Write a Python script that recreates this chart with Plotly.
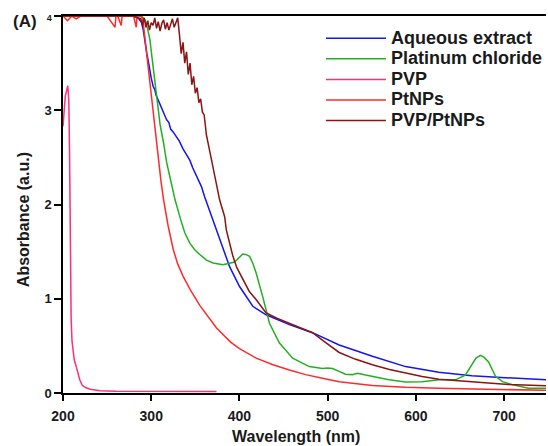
import plotly.graph_objects as go

# ---- data ----
series_names = ["Aqueous extract", "Platinum chloride", "PVP", "PtNPs", "PVP/PtNPs"]
series_colors = ["#1414F0", "#22B022", "#FF2D7A", "#FF2A2A", "#8B1414"]

aq_wl = [200, 210, 220, 230, 240, 250, 260, 270, 280, 286, 289, 291, 292.9, 295, 296.5, 298.5, 300, 302.3, 304, 305.5,
         307.9, 309.8, 312, 314, 317.4, 320, 322, 324.8, 328.7, 332, 336, 340, 343.7, 347, 351.2, 356.9, 360.6, 364,
         368.2, 373.8, 381.3, 388.8, 400.1, 415.1, 430.2, 456.5, 482.8, 513, 550.6, 588.3, 625.9, 663.4, 701, 748]
aq_abs = [4, 4, 4, 4, 4, 4, 4, 4, 4, 3.97, 3.93, 3.85, 3.71, 3.6, 3.53, 3.39, 3.34, 3.25, 3.22, 3.16,
          3.11, 3.07, 3.01, 2.98, 2.9, 2.87, 2.8, 2.77, 2.72, 2.67, 2.59, 2.52, 2.47, 2.39, 2.30, 2.19, 2.08, 1.99,
          1.87, 1.73, 1.52, 1.34, 1.13, 0.92, 0.83, 0.725, 0.64, 0.51, 0.39, 0.28, 0.22, 0.184, 0.162, 0.141]

pc_wl = [200, 250, 285, 290, 292.9, 295, 298.5, 301, 304.2, 306.1, 310, 314, 317.4, 321, 327, 333, 338, 343.7, 349.3,
         355, 362.5, 370, 381.3, 394.5, 400, 403.8, 407, 411.4, 415, 419, 426.4, 434, 445.3, 460.3, 479.1, 494.1, 500,
         505.4, 513, 520, 528, 533.7, 543, 569.4, 588.3, 607, 626, 644.7, 656, 663.4, 668, 673, 677, 682.3, 690, 698,
         708.6, 727.4, 748]
pc_abs = [4, 4, 4, 3.99, 3.96, 3.9, 3.75, 3.55, 3.29, 3.11, 2.85, 2.65, 2.45, 2.3, 2.05, 1.85, 1.70, 1.59, 1.52,
          1.47, 1.41, 1.38, 1.36, 1.39, 1.44, 1.475, 1.47, 1.45, 1.38, 1.27, 1.02, 0.74, 0.53, 0.37, 0.28, 0.26, 0.265,
          0.26, 0.23, 0.2, 0.195, 0.21, 0.19, 0.14, 0.117, 0.12, 0.14, 0.14, 0.19, 0.31, 0.37, 0.40, 0.38, 0.33, 0.18, 0.12,
          0.09, 0.05, 0.05]

pvp_wl = [200, 202.6, 205.4, 206.6, 207.4, 208.3, 209.2, 210.2, 212.8, 215, 216.8, 219, 222, 226, 231, 242, 260, 300, 340, 374]
pvp_abs = [2.83, 3.15, 3.26, 3.1, 2.58, 1.6, 0.8, 0.55, 0.35, 0.28, 0.22, 0.14, 0.08, 0.055, 0.04, 0.025, 0.018, 0.015, 0.015, 0.015]

pt_wl = [200, 205, 210, 215, 220, 230, 250, 259, 260, 262, 266, 267, 270, 280, 283, 284, 286, 289, 291, 293, 296,
         299, 302, 305, 308, 311, 314, 319, 325, 330, 336, 344, 355, 365, 374, 390, 400, 419, 438, 456.5, 475, 494, 513,
         550.6, 588, 625, 663, 705, 748]
pt_abs = [4, 3.95, 4, 3.97, 4, 4, 4, 3.88, 4, 4, 3.9, 4, 4, 4, 3.88, 4, 4, 4, 3.92, 3.75, 3.5,
          3.2, 2.95, 2.7, 2.45, 2.25, 2.05, 1.78, 1.52, 1.37, 1.24, 1.10, 0.93, 0.80, 0.69, 0.54, 0.47, 0.37, 0.3, 0.245,
          0.195, 0.156, 0.12, 0.08, 0.06, 0.05, 0.043, 0.035, 0.028]

pp_wl = [200, 250, 280, 288, 290, 292, 294, 296, 298, 300, 302, 304, 306, 308, 310, 312, 314, 316, 318, 320, 322,
         324, 326, 328, 330, 332, 334, 336, 338, 340, 342, 344, 346, 348, 350, 352, 354, 356, 358, 360, 362.5, 366,
         370, 373.8, 377.5, 383.2, 385.1, 390.7, 392.6, 397, 403.8, 411, 419, 430.2, 443, 456.5, 470, 482.8, 497, 513,
         531, 550.6, 570, 588, 607, 626, 645, 663, 682, 705, 725, 748]
pp_abs = [4, 4, 4, 3.97, 3.9, 3.98, 3.88, 3.95, 3.85, 3.93, 3.9, 3.98, 3.87, 3.94, 3.84, 3.92, 3.96, 3.86, 3.93, 3.85,
          3.9, 3.97, 3.88, 3.93, 3.98, 3.8, 3.6, 3.72, 3.5, 3.62, 3.38, 3.5, 3.27, 3.36, 3.18, 3.24, 3.08, 3.12, 2.98,
          2.95, 2.74, 2.58, 2.40, 2.23, 2.05, 1.87, 1.73, 1.52, 1.45, 1.33, 1.2, 1.08, 0.99, 0.85, 0.79, 0.74, 0.69,
          0.64, 0.54, 0.43, 0.36, 0.30, 0.25, 0.21, 0.175, 0.145, 0.13, 0.115, 0.105, 0.09, 0.083, 0.078]

x_ticks = [200, 300, 400, 500, 600, 700]
y_ticks = [0, 1, 2, 3, 4]
y_ticktext = ["0", "1", "2", "3", "<span style='font-size:9px'>4</span>"]

xs = [aq_wl, pc_wl, pvp_wl, pt_wl, pp_wl]
ys = [aq_abs, pc_abs, pvp_abs, pt_abs, pp_abs]

fig = go.Figure()
for name, color, x, y in zip(series_names, series_colors, xs, ys):
    fig.add_trace(go.Scatter(
        x=x, y=y, mode="lines", name="<span style='font-size:18px'>" + name + "</span>",
        line=dict(color=color, width=1.5),
    ))

W, H = 548, 446
L, R, T, B = 63, 0, 16, 53
pw, ph = W - L - R, H - T - B

def px_x(p):
    return (p - L) / pw

def px_y(p):
    return 1 - (p - T) / ph

fig.update_layout(
    width=W, height=H,
    margin=dict(l=L, r=R, t=T, b=B, pad=0),
    paper_bgcolor="white", plot_bgcolor="white",
    font=dict(family="Arial", color="#1a1a1a"),
    showlegend=True,
    legend=dict(
        x=px_x(322), y=px_y(23), xanchor="left", yanchor="top",
        bgcolor="rgba(0,0,0,0)", borderwidth=0,
        font=dict(family="Arial", size=13.5, color="#1a1a1a", weight="bold"),
        itemwidth=60, tracegroupgap=0,
    ),
    xaxis=dict(
        range=[200, 200 + pw / 0.886], tickvals=x_ticks, ticks="outside", ticklen=6, tickwidth=1.5,
        tickcolor="black", showline=True, linecolor="black", linewidth=1.5, mirror=True,
        showgrid=False, zeroline=False, ticklabelstandoff=3,
        tickfont=dict(family="Arial", size=14, color="#1a1a1a", weight="bold"),
    ),
    yaxis=dict(
        range=[0, 4], tickvals=y_ticks, ticktext=y_ticktext, ticks="outside", ticklen=7, tickwidth=1.5,
        tickcolor="black", showline=True, linecolor="black", linewidth=1.5,
        showgrid=False, zeroline=False,
        tickfont=dict(family="Arial", size=13, color="#1a1a1a", weight="bold"),
    ),
    annotations=[
        dict(text="<b>(A)</b>", x=px_x(24.7), y=px_y(21.5), xref="paper", yref="paper",
             xanchor="center", yanchor="middle", showarrow=False,
             font=dict(family="Arial", size=17, color="#1a1a1a")),
        dict(text="<b>Absorbance (a.u.)</b>", x=px_x(23), y=px_y(220), xref="paper", yref="paper",
             xanchor="center", yanchor="middle", showarrow=False, textangle=-90,
             font=dict(family="Arial", size=16, color="#1a1a1a")),
        dict(text="<b>Wavelength (nm)</b>", x=px_x(297), y=px_y(436), xref="paper", yref="paper",
             xanchor="center", yanchor="middle", showarrow=False,
             font=dict(family="Arial", size=16, color="#1a1a1a")),
    ],
)

fig.write_html("out.html")
